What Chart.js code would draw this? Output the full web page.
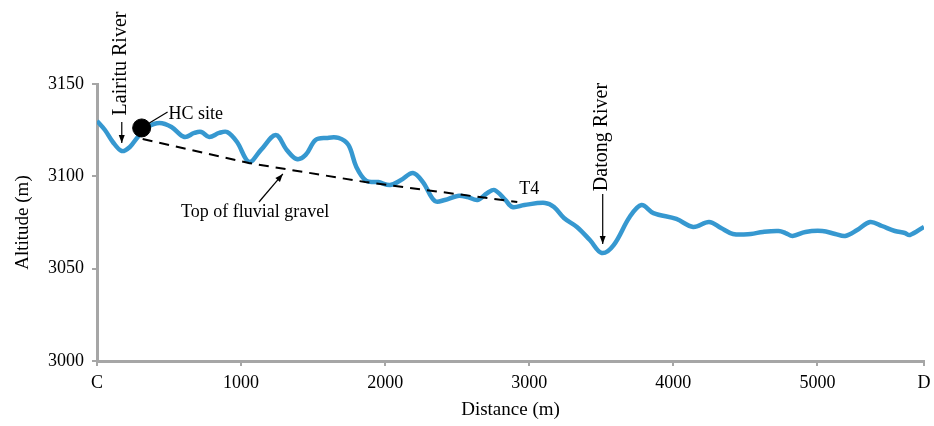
<!DOCTYPE html>
<html><head><meta charset="utf-8">
<script src="https://cdn.jsdelivr.net/npm/chart.js@4"></script>
<style>html,body{margin:0;padding:0;background:#fff}#wrap{width:934px;height:426px}</style>
</head><body><div id="wrap"><canvas id="c" width="934" height="426"></canvas></div>
<script>
// Profile C–D
const distance = [0,55,110,172,228,283,352,434,517,607,676,724,779,848,903,972,1055,1138,1241,1317,1386,1448,1517,1593,1676,1745,1800,1869,1952,2034,2110,2193,2262,2345,2414,2503,2572,2641,2710,2759,2834,2883,2966,3110,3172,3241,3331,3421,3503,3586,3697,3779,3862,4021,4138,4248,4331,4414,4538,4621,4731,4779,4828,4917,5034,5124,5193,5276,5366,5448,5538,5607,5641,5740];
const altitude = [3130.0,3125.1,3118.6,3113.7,3115.9,3121.3,3126.7,3128.9,3126.7,3121.3,3123.5,3124.0,3121.3,3123.5,3124.0,3118.6,3107.8,3114.3,3122.4,3114.3,3109.4,3111.6,3119.7,3120.8,3120.8,3117.0,3105.1,3097.5,3096.9,3095.3,3098.0,3101.8,3096.9,3086.6,3087.2,3089.4,3088.8,3087.2,3091.0,3092.6,3087.2,3083.4,3084.5,3085.6,3083.4,3077.4,3072.6,3065.5,3058.5,3062.8,3078.0,3084.5,3080.1,3076.9,3072.6,3075.3,3072.0,3068.8,3068.8,3069.9,3070.4,3069.3,3067.7,3069.9,3070.4,3068.8,3067.7,3070.9,3075.3,3073.1,3070.4,3069.3,3068.2,3072.6];
// Top of fluvial gravel (T4)
const gravelDistance = [317,1055,1862,2917];
const gravelAltitude = [3120.2,3107.2,3096.9,3086.1];
// HC site
const hcDistance = [310];
const hcAltitude = [3126.2];
// Ticks
const xTickValues = [0,1000,2000,3000,4000,5000,5740];
const xTickLabels = ['C','1000','2000','3000','4000','5000','D'];
const yTickValues = [3000,3050,3100,3150];
const yTickLabels = ['3000','3050','3100','3150'];

// Annotations (data coordinates)
const texts = [
  {t:'Lairitu River', x:166, y:3161.1, rot:-Math.PI/2, align:'center', size:20},
  {t:'HC site', x:497, y:3133.8, rot:0, align:'left', size:18},
  {t:'Top of fluvial gravel', x:1097, y:3080.7, rot:0, align:'center', size:18},
  {t:'T4', x:3000, y:3093.1, rot:0, align:'center', size:18},
  {t:'Datong River', x:3503, y:3121.3, rot:-Math.PI/2, align:'center', size:20}
];
const arrows = [
  {x1:172, y1:3129.4, x2:172, y2:3118.0, head:true},
  {x1:352, y1:3128.3, x2:490, y2:3134.8, head:false},
  {x1:1124, y1:3086.1, x2:1290, y2:3101.3, head:true},
  {x1:3510, y1:3090.4, x2:3510, y2:3063.4, head:true}
];

const FONT = "'Liberation Serif', 'Times New Roman', serif";
const GRAY = '#a6a6a6';

const annotPlugin = {
  id:'annot',
  afterDatasetsDraw(chart){
    const ctx = chart.ctx, xs = chart.scales.x, ys = chart.scales.y;
    ctx.save();
    ctx.strokeStyle = '#000'; ctx.fillStyle = '#000'; ctx.lineWidth = 1.2;
    arrows.forEach(a=>{
      const x1 = xs.getPixelForValue(a.x1), y1 = ys.getPixelForValue(a.y1);
      const x2 = xs.getPixelForValue(a.x2), y2 = ys.getPixelForValue(a.y2);
      ctx.beginPath(); ctx.moveTo(x1,y1); ctx.lineTo(x2,y2); ctx.stroke();
      if (a.head){
        const ang = Math.atan2(y2-y1, x2-x1), L = 8, W = 3;
        ctx.beginPath();
        ctx.moveTo(x2,y2);
        ctx.lineTo(x2 - L*Math.cos(ang) + W*Math.sin(ang), y2 - L*Math.sin(ang) - W*Math.cos(ang));
        ctx.lineTo(x2 - L*Math.cos(ang) - W*Math.sin(ang), y2 - L*Math.sin(ang) + W*Math.cos(ang));
        ctx.closePath(); ctx.fill();
      }
    });
    texts.forEach(o=>{
      const px = xs.getPixelForValue(o.x), py = ys.getPixelForValue(o.y);
      ctx.save();
      ctx.translate(px,py); ctx.rotate(o.rot);
      ctx.font = o.size + 'px ' + FONT;
      ctx.textAlign = o.align; ctx.textBaseline = 'middle';
      ctx.fillText(o.t, 0, 0);
      ctx.restore();
    });
    ctx.restore();
  }
};

new Chart(document.getElementById('c'), {
  type:'line',
  data:{
    datasets:[
      {label:'HC site', type:'scatter', data:hcDistance.map((d,i)=>({x:d,y:hcAltitude[i]})), pointRadius:9, pointBackgroundColor:'#000', pointBorderColor:'#000', order:0},
      {label:'Profile', data:distance.map((d,i)=>({x:d,y:altitude[i]})), borderColor:'#3698d0', borderWidth:4.5, pointRadius:0, tension:0.35, fill:false, order:2},
      {label:'Top of fluvial gravel', data:gravelDistance.map((d,i)=>({x:d,y:gravelAltitude[i]})), borderColor:'#000', borderWidth:2, borderDash:[10,7], pointRadius:0, tension:0, fill:false, order:1}
    ]
  },
  options:{
    responsive:false, animation:false, devicePixelRatio:1,
    layout:{padding:{top:84,right:2,left:0,bottom:0}},
    plugins:{legend:{display:false}, tooltip:{enabled:false}},
    scales:{
      x:{
        type:'linear', min:0, max:5740,
        afterBuildTicks(s){ s.ticks = xTickValues.map(v=>({value:v})); },
        afterFit(s){ s.height = 65; s.paddingRight = 0; s.paddingLeft = 0; },
        ticks:{callback:(v,i)=>xTickLabels[i], font:{family:FONT,size:18}, color:'#000', padding:6, maxRotation:0, autoSkip:false},
        grid:{drawOnChartArea:false, color:GRAY, lineWidth:2, tickLength:5},
        border:{color:GRAY, width:3},
        title:{display:true, text:'Distance (m)', font:{family:FONT,size:19}, color:'#000', padding:{top:0,bottom:5}}
      },
      y:{
        min:3000, max:3150,
        afterBuildTicks(s){ s.ticks = yTickValues.map(v=>({value:v})); },
        afterFit(s){ s.width = 97; },
        ticks:{callback:(v,i)=>yTickLabels[i], font:{family:FONT,size:18}, color:'#000', padding:8},
        grid:{drawOnChartArea:false, color:GRAY, lineWidth:2, tickLength:5},
        border:{color:GRAY, width:3},
        title:{display:true, text:'Altitude (m)', font:{family:FONT,size:19}, color:'#000', padding:{top:12,bottom:0}}
      }
    }
  },
  plugins:[annotPlugin]
});
</script></body></html>
